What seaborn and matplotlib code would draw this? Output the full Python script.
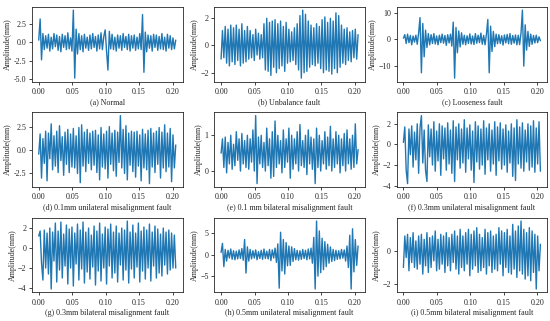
import numpy as np
import pandas as pd
import matplotlib
matplotlib.use("Agg")
import matplotlib.pyplot as plt
import seaborn as sns

# Signal values (amplitude in mm), 100 samples over 0.2048 s
normal = [0.3, 3.2, -2.4, 1.2, -1.0, 0.9, -0.8, 1.1, -1.2, 0.7,
          -0.9, 1.2, -0.6, 1.0, -1.1, 0.8, -1.3, 1.1, -0.7, 0.9,
          -1.0, 1.3, -0.9, 0.6, -1.2, 4.4, -4.9, 1.8, -1.6, 1.2,
          -1.0, 0.9, -1.3, 1.1, -0.8, 0.7, -1.1, 1.0, -0.9, 1.2,
          -0.7, 0.8, -1.2, 1.0, -0.9, 1.3, -1.0, 0.8, 1.7, -1.2,
          -3.8, 1.5, -0.9, 1.1, -1.0, 0.7, -1.2, 1.0, -0.8, 0.9,
          -1.1, 1.2, -0.7, 0.8, -1.0, 1.1, -1.2, 0.9, -0.8, 1.0,
          -1.1, 0.7, -0.9, 1.2, -1.0, 3.8, -4.1, 1.4, -1.3, 1.0,
          -0.8, 0.9, -1.2, 1.1, -0.7, 1.0, -1.1, 0.8, -0.9, 1.2,
          -1.0, 0.7, -1.2, 1.1, -0.8, 0.9, -1.0, 0.6, -0.9, 0.3]

unbalance = [-1.0, 1.1, -0.9, 1.4, -1.3, 1.2, -1.5, 1.5, -1.2, 1.3,
             -1.4, 1.5, -1.1, 1.2, -1.5, 1.6, -1.3, 1.1, -1.2, 1.4,
             -1.0, 1.1, -0.9, 0.8, -1.1, 1.2, -0.7, 0.9, -1.0, 0.8,
             -0.9, 1.6, -1.8, 2.0, -1.9, 1.7, -2.2, 1.8, -1.6, 1.9,
             -2.0, 1.6, -1.7, 1.8, -1.5, 1.4, -1.9, 1.7, -1.3, 1.2,
             -1.2, 1.0, -1.1, 1.3, -1.4, 1.6, -1.8, 2.2, -2.4, 2.6,
             -2.0, 2.3, -1.9, 1.8, -1.6, 1.5, -1.4, 1.3, -1.5, 1.6,
             -1.3, 1.4, -1.7, 1.9, -2.0, 2.1, -1.8, 1.7, -1.9, 2.0,
             -2.1, 1.8, -1.7, 2.4, -2.0, 2.2, -1.6, 1.5, -1.3, 1.2,
             -1.4, 1.3, -1.1, 1.0, -1.2, 1.1, -0.9, 1.2, -1.0, 0.8]

looseness = [0.5, 1.8, -1.5, 2.0, -1.2, 1.5, -2.0, 1.3, -1.0, 1.6,
             -1.8, 2.5, 8.2, -12.5, 6.0, -6.5, 3.5, -3.0, 2.2, -2.0,
             1.8, -1.5, 2.2, -1.7, 1.3, -2.0, 1.6, -1.2, 2.0, -1.4,
             1.5, -2.2, 1.8, -1.3, 2.0, -2.5, 6.5, -14.5, 4.5, -5.0,
             3.2, -2.8, 2.5, -1.8, 1.6, -2.0, 1.4, -1.5, 2.1, -1.7,
             1.3, -1.9, 2.2, -1.4, 1.6, -1.2, 2.4, -1.8, 1.5, -2.0,
             2.0, 7.5, -12.5, 5.0, -4.5, 3.0, -2.7, 2.0, -1.6, 1.8,
             -1.5, 1.4, -2.1, 1.7, -1.3, 1.9, -1.6, 2.2, -1.8, 1.5,
             -1.4, 1.7, -2.0, 1.6, -1.9, 2.5, 11.0, -10.0, 5.5, -4.0,
             3.0, -2.6, 2.0, -1.8, 1.5, -1.3, 1.6, -1.2, 1.0, -0.5]

uni_01 = [-0.5, 1.7, -3.1, 1.2, -1.5, 2.0, -3.4, 1.8, -1.0, 2.8,
          -2.2, 1.5, -1.8, 2.0, -2.5, 2.6, -1.2, 1.4, -2.8, 1.9,
          -1.6, 2.2, -2.5, 1.7, -1.9, 2.3, -2.0, 1.5, -2.6, 2.4,
          -3.6, 2.7, -1.8, 1.9, -2.4, 2.2, -1.5, 1.8, -2.2, 2.0,
          -1.7, 2.1, -2.5, 1.6, -3.3, 2.4, -1.9, 1.7, -2.1, 2.0,
          -3.1, 2.5, -1.6, 1.8, -2.3, 2.1, -2.9, 1.9, -1.4, 3.7,
          -2.0, 2.2, -2.6, 2.6, -3.3, 1.8, -1.7, 2.0, -2.4, 1.9,
          -3.0, 2.0, -1.8, 1.6, -3.4, 2.2, -2.0, 1.7, -2.2, 2.1,
          -3.7, 2.3, -1.9, 1.8, -2.5, 2.0, -1.6, 2.4, -3.1, 1.9,
          -2.0, 2.7, -2.4, 1.8, -1.9, 2.3, -3.5, 1.6, -2.0, 0.5]

bi_01 = [0.5, 0.9, 0.1, 0.95, -0.05, 0.8, 0.2, 1.0, 0.05, 0.75,
         0.15, 1.1, 0.3, 0.9, 0.0, 1.05, 0.2, 0.85, 0.1, 1.0,
         0.05, 0.9, 0.25, 1.15, 0.0, 1.55, -0.35, 0.95, 0.2, 1.0,
         0.1, 0.8, 0.0, 1.2, 0.15, 0.9, -0.2, 1.1, -0.15, 1.4,
         0.1, 1.0, 0.2, 0.85, -0.05, 1.15, 0.1, 0.9, 0.25, 1.2,
         -0.2, 1.0, 0.05, 0.9, 0.2, 1.1, 0.0, 1.3, 0.15, 0.85,
         0.1, 1.0, -0.1, 1.15, 0.2, 0.95, 0.05, 0.9, -0.35, 1.2,
         0.1, 1.0, 0.0, 0.85, 0.2, 1.1, 0.05, 0.95, 0.15, 1.25,
         0.0, 0.9, 0.1, 1.1, 0.2, 1.0, -0.05, 0.9, 0.15, 1.05,
         0.0, 1.15, 0.2, 0.9, 0.05, 1.0, 0.1, 1.32, 0.2, 0.6]

uni_03 = [0.2, 1.7, -2.5, -3.8, 1.5, -1.0, 1.8, -2.2, 1.2, -1.5,
          2.0, -2.8, 1.6, 2.8, -1.8, 1.4, -2.5, -3.6, 1.9, -1.2,
          1.5, -2.0, 2.2, -2.6, 1.3, -1.6, 2.0, -3.0, 1.8, -1.4,
          1.6, -2.5, 2.1, -1.9, 1.4, -2.8, 2.3, -3.6, 1.7, -1.5,
          2.0, -2.3, 1.5, -1.8, 2.4, -2.7, 1.6, -1.4, 1.9, -2.5,
          1.3, -3.7, 2.2, -1.7, 1.8, -2.4, 1.5, -2.0, 2.3, -2.9,
          1.6, -1.5, 2.0, -2.6, 1.4, -1.9, 2.2, -3.0, 1.7, -1.6,
          2.1, -2.4, 1.5, -2.0, 1.9, -2.7, 1.3, -1.8, 2.0, -3.1,
          1.6, -3.5, 2.4, -1.9, 1.7, -2.3, 2.1, -2.6, 1.4, -1.7,
          2.0, -2.5, 1.8, -2.2, 2.3, -2.7, 1.6, -1.9, 2.2, -2.6]

bi_03 = [1.2, 1.7, -1.5, -3.2, 1.8, -2.0, 1.5, -2.6, 2.0, -4.1,
         1.6, -1.3, 2.5, -3.4, 1.7, -2.2, 2.6, -3.0, 1.4, -1.8,
         2.3, -3.6, 1.9, -2.0, 2.1, -3.8, 1.5, -1.6, 2.4, -3.2,
         1.8, -2.1, 2.6, -3.5, 1.6, -2.4, 2.0, -3.1, 1.3, -1.9,
         2.2, -3.7, 1.7, -2.3, 2.5, -3.3, 1.4, -2.0, 2.1, -3.6,
         1.9, -1.8, 2.4, -3.0, 1.6, -2.5, 2.2, -3.4, 1.5, -1.7,
         2.0, -3.2, 1.8, -2.2, 2.7, -3.5, 1.6, -2.1, 2.3, -3.0,
         1.5, -1.9, 2.5, -3.4, 1.7, -2.3, 2.1, -3.1, 1.8, -2.0,
         2.4, -3.3, 1.6, -1.8, 2.2, -3.0, 1.9, -2.5, 1.4, -2.8,
         2.0, -1.7, 1.6, -2.6, 1.8, -2.2, 1.5, -2.0, 1.3, -2.0]

uni_05 = [0.5, 2.6, -2.8, 1.2, -1.5, 1.0, -0.8, 1.3, -1.1, 0.9,
          -1.2, 0.8, -1.0, 1.1, -0.9, 1.4, -1.3, 3.5, -4.3, 1.8,
          -1.5, 1.2, -1.0, 0.9, -0.8, 1.1, -1.2, 0.7, -0.9, 1.0,
          -1.1, 1.3, -0.9, 0.8, -1.0, 1.2, -1.4, 1.1, -0.8, 1.5,
          -1.8, 2.5, -7.8, 5.2, -3.8, 3.5, -4.5, 2.8, -2.6, 2.0,
          -2.5, 1.8, -1.6, 1.4, -1.2, 1.0, -1.3, 0.9, -1.1, 1.2,
          -0.9, 1.0, -1.2, 1.3, -1.0, 1.5, -2.0, 4.0, -8.0, 7.8,
          -5.0, 5.5, -4.2, 3.8, -3.5, 3.0, -2.8, 2.4, -2.0, 1.8,
          -1.6, 1.2, -1.4, 1.0, -1.1, 0.9, -1.0, 1.2, -0.8, 1.1,
          -1.5, 2.0, -3.0, 4.5, -8.0, 6.0, -4.0, 3.5, -2.5, 2.0]

bi_05 = [-1.0, 0.9, -0.4, 1.0, -1.2, 0.8, -0.7, 1.1, -1.0, 0.6,
         -1.1, 0.9, -0.8, 1.0, -1.4, 0.7, -0.9, 1.1, -1.3, 0.8,
         -1.0, 0.9, -0.6, 1.2, -1.2, 0.7, -1.1, 1.0, -0.8, 0.9,
         -1.3, 1.1, -0.9, 0.8, -1.2, 1.0, -0.7, 1.2, -1.1, 0.9,
         -1.4, 1.3, -1.0, 0.9, -1.2, 1.1, -0.8, 1.3, -1.5, 1.0,
         -1.1, 1.2, -0.9, 1.4, -1.3, 1.0, -1.2, 0.8, -1.0, 1.3,
         -1.4, 1.1, -0.9, 1.2, -1.3, 0.9, -1.1, 1.0, -1.2, 1.4,
         -0.8, 1.2, -1.5, 1.1, -1.0, 1.3, -1.3, 0.9, -1.4, 1.6,
         -1.1, 1.2, -1.6, 1.5, -1.2, 1.8, -1.4, 1.3, -1.7, 1.1,
         -1.5, 1.4, -1.8, 1.2, -1.3, 1.0, -2.3, 0.9, -1.2, 0.4]

captions = ["(a) Normal", "(b) Unbalance fault", "(c) Looseness fault",
            "(d) 0.1mm unilateral misalignment fault",
            "(e) 0.1 mm bilateral misalignment fault",
            "(f) 0.3mm unilateral misalignment fault",
            "(g) 0.3mm bilateral misalignment fault",
            "(h) 0.5mm unilateral misalignment fault",
            "(i) 0.5mm bilateral misalignment fault"]
signals = [normal, unbalance, looseness, uni_01, bi_01, uni_03, bi_03, uni_05, bi_05]
yticks = [[-5.0, -2.5, 0.0, 2.5], [-2, 0, 2], [-10, 0, 10],
          [-2.5, 0.0, 2.5], [0, 1], [-4, -2, 0, 2],
          [-4, -2, 0, 2], [-5, 0, 5], [-2, 0]]

time = np.linspace(0, 0.2048, len(normal))

sns.set_style("ticks")
plt.rcParams['font.family'] = ['Liberation Serif', 'DejaVu Serif']
plt.rcParams['font.size'] = 5.8
plt.rcParams['axes.linewidth'] = 0.6
plt.rcParams['xtick.major.width'] = 0.6
plt.rcParams['ytick.major.width'] = 0.6
plt.rcParams['xtick.major.size'] = 2.5
plt.rcParams['ytick.major.size'] = 2.5
plt.rcParams['xtick.major.pad'] = 2
plt.rcParams['ytick.major.pad'] = 1.5

fig, axes = plt.subplots(3, 3, figsize=(5.5, 3.21), dpi=100)
fig.subplots_adjust(left=0.058, right=0.995, top=0.979, bottom=0.089,
                    wspace=0.21, hspace=0.41)

for ax, sig, cap, yt in zip(axes.flat, signals, captions, yticks):
    df = pd.DataFrame({'t': time, 'amp': sig})
    sns.lineplot(data=df, x='t', y='amp', ax=ax, color='#1f77b4',
                 linewidth=1.0, estimator=None)
    ax.set_xticks([0.0, 0.05, 0.10, 0.15, 0.20])
    ax.set_xticklabels(['0.00', '0.05', '0.10', '0.15', '0.20'])
    ax.set_yticks(yt)
    if isinstance(yt[0], float):
        ax.set_yticklabels([f'{v:.1f}' for v in yt])
    ax.set_xlabel(cap, fontsize=5.8, labelpad=2)
    ax.set_ylabel('Amplitude(mm)', fontsize=5.8, labelpad=1)
    ax.tick_params(labelsize=5.8)

fig.savefig('out.png', dpi=100)
